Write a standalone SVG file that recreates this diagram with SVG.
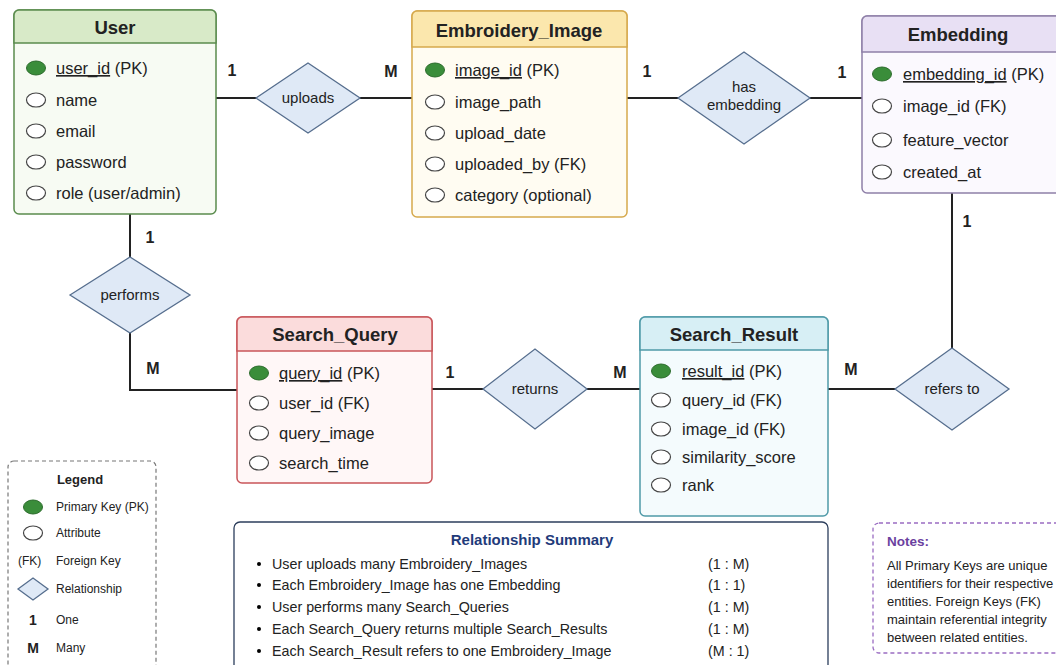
<svg xmlns="http://www.w3.org/2000/svg" width="1056" height="665" viewBox="0 0 1056 665">
<defs>
<style>
text{font-family:"Liberation Sans",Arial,sans-serif;fill:#222}
.title{font-size:18.5px;font-weight:bold;text-anchor:middle}
.attr{font-size:16.5px}
.pk{fill:#3a8d3a;stroke:#2b6b2b;stroke-width:1}
.at{fill:#fff;stroke:#444;stroke-width:1.2}
.rel{fill:#dfe9f6;stroke:#566e8e;stroke-width:1.3}
.rl{font-size:15px;text-anchor:middle}
.card{font-size:16px;font-weight:bold;text-anchor:middle}
.con{fill:none;stroke:#222;stroke-width:2}
.sm{font-size:14.3px}
.lg{font-size:12px}
.nt{font-size:13px}
</style>
</defs>
<rect width="1056" height="665" fill="#fff"/>

<g id="connectors">
<path class="con" d="M216,98 H256"/>
<path class="con" d="M360,98 H412"/>
<path class="con" d="M627,98 H678"/>
<path class="con" d="M810,98 H862"/>
<path class="con" d="M130,214 V257"/>
<path class="con" d="M130,333 V390 H237"/>
<path class="con" d="M432,389 H483"/>
<path class="con" d="M587,389 H640"/>
<path class="con" d="M828,389 H895"/>
<path class="con" d="M952,193 V348"/>
<text class="card" x="232" y="76">1</text>
<text class="card" x="391" y="77">M</text>
<text class="card" x="647" y="77">1</text>
<text class="card" x="842" y="78">1</text>
<text class="card" x="967" y="227">1</text>
<text class="card" x="150" y="243">1</text>
<text class="card" x="153" y="374">M</text>
<text class="card" x="450" y="378">1</text>
<text class="card" x="620" y="378">M</text>
<text class="card" x="851" y="375">M</text>
</g>

<g id="user">
<rect x="14" y="10" width="202" height="204" rx="5" fill="#f7fbf3" stroke="#5b8c4e" stroke-width="1.5"/>
<path d="M19,10 H211 A5,5 0 0 1 216,15 V43 H14 V15 A5,5 0 0 1 19,10 Z" fill="#d8eac8" stroke="#5b8c4e" stroke-width="1.5"/>
<text class="title" x="115" y="34">User</text>
<ellipse class="pk" cx="36" cy="68" rx="9.5" ry="7"/>
<text class="attr" x="56" y="74"><tspan text-decoration="underline">user_id</tspan> (PK)</text>
<ellipse class="at" cx="36" cy="100" rx="9.5" ry="7"/>
<text class="attr" x="56" y="106">name</text>
<ellipse class="at" cx="36" cy="131" rx="9.5" ry="7"/>
<text class="attr" x="56" y="137">email</text>
<ellipse class="at" cx="36" cy="162" rx="9.5" ry="7"/>
<text class="attr" x="56" y="168">password</text>
<ellipse class="at" cx="36" cy="193" rx="9.5" ry="7"/>
<text class="attr" x="56" y="199">role (user/admin)</text>
</g>

<g id="embroidery_image">
<rect x="412" y="11" width="215" height="206" rx="5" fill="#fffcf2" stroke="#d6a94c" stroke-width="1.5"/>
<path d="M417,11 H622 A5,5 0 0 1 627,16 V47 H412 V16 A5,5 0 0 1 417,11 Z" fill="#fbe7ad" stroke="#d6a94c" stroke-width="1.5"/>
<text class="title" x="519" y="37">Embroidery_Image</text>
<ellipse class="pk" cx="435" cy="70" rx="9.5" ry="7"/>
<text class="attr" x="455" y="76"><tspan text-decoration="underline">image_id</tspan> (PK)</text>
<ellipse class="at" cx="435" cy="102" rx="9.5" ry="7"/>
<text class="attr" x="455" y="108">image_path</text>
<ellipse class="at" cx="435" cy="133" rx="9.5" ry="7"/>
<text class="attr" x="455" y="139">upload_date</text>
<ellipse class="at" cx="435" cy="164" rx="9.5" ry="7"/>
<text class="attr" x="455" y="170">uploaded_by (FK)</text>
<ellipse class="at" cx="435" cy="195" rx="9.5" ry="7"/>
<text class="attr" x="455" y="201">category (optional)</text>
</g>

<g id="embedding">
<rect x="862" y="16" width="200" height="177" rx="5" fill="#fbf9fe" stroke="#8f80a8" stroke-width="1.5"/>
<path d="M867,16 H1062 V52 H862 V21 A5,5 0 0 1 867,16 Z" fill="#e8e0f4" stroke="#8f80a8" stroke-width="1.5"/>
<text class="title" x="958" y="41">Embedding</text>
<ellipse class="pk" cx="882" cy="74" rx="9.5" ry="7"/>
<text class="attr" x="903" y="80"><tspan text-decoration="underline">embedding_id</tspan> (PK)</text>
<ellipse class="at" cx="882" cy="106" rx="9.5" ry="7"/>
<text class="attr" x="903" y="112">image_id (FK)</text>
<ellipse class="at" cx="882" cy="140" rx="9.5" ry="7"/>
<text class="attr" x="903" y="146">feature_vector</text>
<ellipse class="at" cx="882" cy="172" rx="9.5" ry="7"/>
<text class="attr" x="903" y="178">created_at</text>
</g>

<g id="search_query">
<rect x="237" y="317" width="195" height="166" rx="5" fill="#fff7f7" stroke="#c9555a" stroke-width="1.5"/>
<path d="M242,317 H427 A5,5 0 0 1 432,322 V351 H237 V322 A5,5 0 0 1 242,317 Z" fill="#fbdcdc" stroke="#c9555a" stroke-width="1.5"/>
<text class="title" x="335" y="341">Search_Query</text>
<ellipse class="pk" cx="259" cy="373" rx="9.5" ry="7"/>
<text class="attr" x="279" y="379"><tspan text-decoration="underline">query_id</tspan> (PK)</text>
<ellipse class="at" cx="259" cy="403" rx="9.5" ry="7"/>
<text class="attr" x="279" y="409">user_id (FK)</text>
<ellipse class="at" cx="259" cy="433" rx="9.5" ry="7"/>
<text class="attr" x="279" y="439">query_image</text>
<ellipse class="at" cx="259" cy="463" rx="9.5" ry="7"/>
<text class="attr" x="279" y="469">search_time</text>
</g>

<g id="search_result">
<rect x="640" y="317" width="188" height="199" rx="5" fill="#f4fbfd" stroke="#4f9aa8" stroke-width="1.5"/>
<path d="M645,317 H823 A5,5 0 0 1 828,322 V350 H640 V322 A5,5 0 0 1 645,317 Z" fill="#d7eff5" stroke="#4f9aa8" stroke-width="1.5"/>
<text class="title" x="734" y="341">Search_Result</text>
<ellipse class="pk" cx="661" cy="371" rx="9.5" ry="7"/>
<text class="attr" x="682" y="377"><tspan text-decoration="underline">result_id</tspan> (PK)</text>
<ellipse class="at" cx="661" cy="400" rx="9.5" ry="7"/>
<text class="attr" x="682" y="406">query_id (FK)</text>
<ellipse class="at" cx="661" cy="429" rx="9.5" ry="7"/>
<text class="attr" x="682" y="435">image_id (FK)</text>
<ellipse class="at" cx="661" cy="457" rx="9.5" ry="7"/>
<text class="attr" x="682" y="463">similarity_score</text>
<ellipse class="at" cx="661" cy="485" rx="9.5" ry="7"/>
<text class="attr" x="682" y="491">rank</text>
</g>

<g id="rel_uploads">
<polygon class="rel" points="256,98 308,63 360,98 308,133"/>
<text class="rl" x="308" y="103">uploads</text>
</g>
<g id="rel_has_embedding">
<polygon class="rel" points="678,98 744,52 810,98 744,144"/>
<text class="rl" x="744" y="92">has</text>
<text class="rl" x="744" y="110">embedding</text>
</g>
<g id="rel_performs">
<polygon class="rel" points="70,295 130,257 190,295 130,333"/>
<text class="rl" x="130" y="300">performs</text>
</g>
<g id="rel_returns">
<polygon class="rel" points="483,389 535,349 587,389 535,429"/>
<text class="rl" x="535" y="394">returns</text>
</g>
<g id="rel_refers_to">
<polygon class="rel" points="895,389 952,348 1009,389 952,430"/>
<text class="rl" x="952" y="394">refers to</text>
</g>

<g id="legend">
<rect x="8" y="461" width="148" height="220" rx="6" fill="#fff" stroke="#777" stroke-width="1.2" stroke-dasharray="4,3"/>
<text x="80" y="484" font-size="13" font-weight="bold" text-anchor="middle">Legend</text>
<ellipse class="pk" cx="33" cy="507" rx="9.5" ry="7"/>
<text class="lg" x="56" y="511">Primary Key (PK)</text>
<ellipse class="at" cx="33" cy="533" rx="9.5" ry="7"/>
<text class="lg" x="56" y="537">Attribute</text>
<text class="lg" x="18" y="565">(FK)</text>
<text class="lg" x="56" y="565">Foreign Key</text>
<polygon class="rel" points="18,589 33,578 48,589 33,600"/>
<text class="lg" x="56" y="593">Relationship</text>
<text x="33" y="625" font-size="14" font-weight="bold" text-anchor="middle">1</text>
<text class="lg" x="56" y="624">One</text>
<text x="33" y="653" font-size="14" font-weight="bold" text-anchor="middle">M</text>
<text class="lg" x="56" y="652">Many</text>
</g>

<g id="relationship_summary">
<rect x="234" y="522" width="594" height="160" rx="6" fill="#fff" stroke="#2c3e5c" stroke-width="1.3"/>
<text x="532" y="545" font-size="15" font-weight="bold" text-anchor="middle" style="fill:#1f3b7a">Relationship Summary</text>
<circle cx="259" cy="564" r="2"/><text class="sm" x="272" y="569">User uploads many Embroidery_Images</text><text class="sm" x="708" y="569">(1 : M)</text>
<circle cx="259" cy="585" r="2"/><text class="sm" x="272" y="590">Each Embroidery_Image has one Embedding</text><text class="sm" x="708" y="590">(1 : 1)</text>
<circle cx="259" cy="607" r="2"/><text class="sm" x="272" y="612">User performs many Search_Queries</text><text class="sm" x="708" y="612">(1 : M)</text>
<circle cx="259" cy="629" r="2"/><text class="sm" x="272" y="634">Each Search_Query returns multiple Search_Results</text><text class="sm" x="708" y="634">(1 : M)</text>
<circle cx="259" cy="651" r="2"/><text class="sm" x="272" y="656">Each Search_Result refers to one Embroidery_Image</text><text class="sm" x="708" y="656">(M : 1)</text>
</g>

<g id="notes">
<rect x="873" y="523" width="200" height="130" rx="6" fill="#fff" stroke="#9a6cc2" stroke-width="1.3" stroke-dasharray="4,3"/>
<text x="887" y="546" font-size="13.5" font-weight="bold" style="fill:#6b3fa0">Notes:</text>
<text class="nt" x="887" y="570">All Primary Keys are unique</text>
<text class="nt" x="887" y="588">identifiers for their respective</text>
<text class="nt" x="887" y="606">entities. Foreign Keys (FK)</text>
<text class="nt" x="887" y="624">maintain referential integrity</text>
<text class="nt" x="887" y="642">between related entities.</text>
</g>
</svg>
